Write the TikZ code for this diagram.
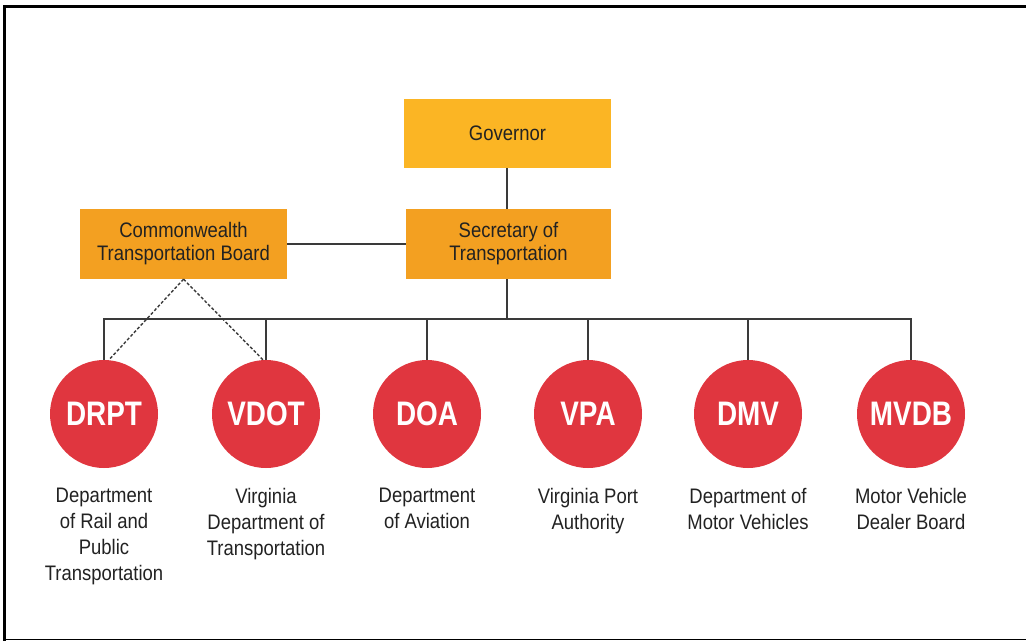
\documentclass[tikz,border=0pt]{standalone}
\usepackage{fontspec}
\setmainfont{Liberation Sans}[FakeStretch=0.88]
\newfontfamily\circfont{Liberation Sans}[FakeStretch=0.82]
\usetikzlibrary{positioning}
\definecolor{govyellow}{HTML}{FBB524}
\definecolor{secorange}{HTML}{F3A021}
\definecolor{agred}{HTML}{E0363F}
\definecolor{linegray}{HTML}{3A3A3A}
\definecolor{txt}{HTML}{222222}
\tikzset{
  boxnode/.style={rectangle, inner sep=0pt, text=txt, align=center,
    font=\fontsize{21}{23}\selectfont},
  agency/.style={circle, fill=agred, minimum size=108pt, inner sep=0pt,
    text=white, font=\circfont\fontsize{34}{36}\selectfont\bfseries},
  desc/.style={anchor=north, align=center, text=txt, inner sep=0pt,
    font=\fontsize{21}{26}\selectfont},
  conn/.style={draw=linegray, line width=1.7pt},
  dashconn/.style={draw=linegray, line width=1.4pt, dash pattern=on 3pt off 2pt},
  frame/.style={draw=black}
}
\begin{document}
\begin{tikzpicture}[x=1pt,y=-1pt]
\useasboundingbox (0,0) rectangle (1026,641);
\fill[white] (0,0) rectangle (1026,641);
% frame
\draw[frame, line width=3pt] (3,6) -- (1026,6);
\draw[frame, line width=3pt] (4.5,6) -- (4.5,641);
\draw[frame, line width=1.6pt] (3,639.5) -- (1026,639.5);
% boxes
\node[boxnode, fill=govyellow, minimum width=207pt, minimum height=69pt] (gov) at (507.5,133.5) {Governor};
\node[boxnode, fill=secorange, minimum width=205pt, minimum height=70pt] (sec) at (508.5,244) {Secretary of\\Transportation};
\node[boxnode, fill=secorange, minimum width=207pt, minimum height=70pt] (ctb) at (183.5,244) {Commonwealth\\Transportation Board};
% circles
\node[agency] (drpt) at (104,414) {DRPT};
\node[agency] (vdot) at (266,414) {VDOT};
\node[agency] (doa) at (427,414) {DOA};
\node[agency] (vpa) at (588,414) {VPA};
\node[agency] (dmv) at (748,414) {DMV};
\node[agency] (mvdb) at (911,414) {MVDB};
% descriptions
\node[desc] (ddrpt) at (104,488) {Department\\of Rail and\\Public\\Transportation};
\node[desc] (dvdot) at (266,488) {Virginia\\Department of\\Transportation};
\node[desc] (ddoa) at (427,488) {Department\\of Aviation};
\node[desc] (dvpa) at (588,488) {Virginia Port\\Authority};
\node[desc] (ddmv) at (748,488) {Department of\\Motor Vehicles};
\node[desc] (dmvdb) at (911,488) {Motor Vehicle\\Dealer Board};
% connectors
\coordinate (bus) at (507,319);
\draw[conn] (gov.south -| bus) -- (sec.north -| bus);
\draw[conn] (ctb.east) -- (ctb.east -| sec.west);
\draw[conn] (sec.south -| bus) -- (bus);
\draw[conn] (drpt.north) |- (bus) -| (mvdb.north);
\foreach \n in {vdot,doa,vpa,dmv}{
  \draw[conn] (\n.north) -- (\n.north |- bus);
}
\draw[dashconn] (drpt.north) ++(5,0) coordinate (dl) (ctb.south) -- (dl);
\draw[dashconn] (vdot.north) ++(-3,0) coordinate (dr) (ctb.south) -- (dr);
\end{tikzpicture}
\end{document}
